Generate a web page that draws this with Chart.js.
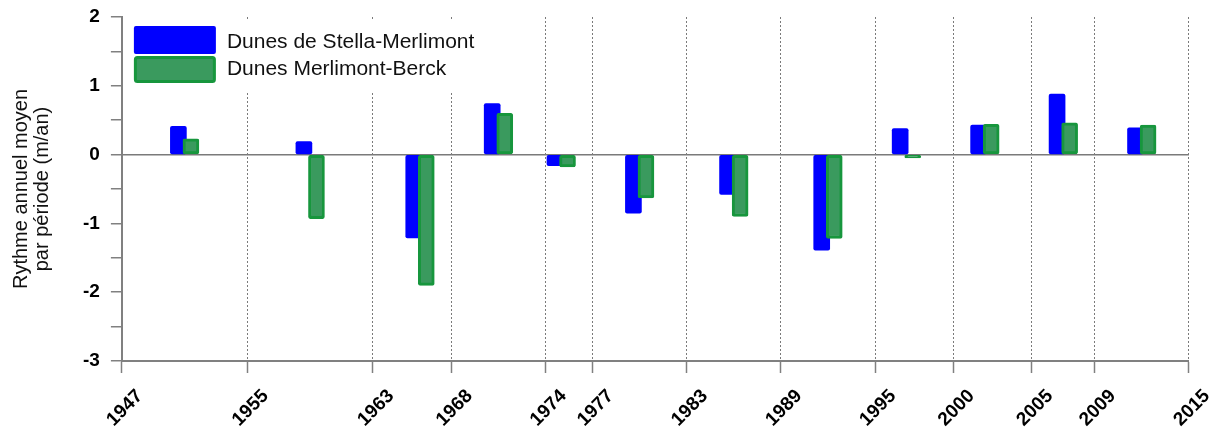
<!DOCTYPE html>
<html>
<head>
<meta charset="utf-8">
<script src="https://cdn.jsdelivr.net/npm/chart.js@4/dist/chart.umd.min.js"></script>
<style>
  html, body { margin: 0; padding: 0; background: #fff; }
  #wrap { width: 1217px; height: 434px; position: relative; }
</style>
</head>
<body>
<div id="wrap"><canvas id="chart"></canvas></div>
<script>
// years marking the period limits (x ticks)
const tickYears = [1947, 1955, 1963, 1968, 1974, 1977, 1983, 1989, 1995, 2000, 2005, 2009, 2015];
// year on which each period's pair of bars is centred
const periodCentres = [1951, 1959, 1966, 1971, 1975, 1980, 1986, 1992, 1997, 2002, 2007, 2012];
// rythme annuel moyen (m/an)
const stellaMerlimont = [0.41, 0.19, -1.21, 0.74, -0.16, -0.85, -0.58, -1.39, 0.38, 0.43, 0.88, 0.39];
const merlimontBerck  = [0.23, -0.93, -1.90, 0.60, -0.18, -0.63, -0.90, -1.22, -0.05, 0.44, 0.46, 0.43];

const FONT = "'Liberation Sans', Arial, sans-serif";
const AXIS_GREY = '#808080';
const barShift = 0.4;

function toPoints(values, shift) {
    return values.map((v, i) => ({ x: periodCentres[i] + shift, y: v }));
}

// legend drawn inside the plot, on a white patch over the grid lines
const boxLegend = {
    id: 'boxLegend',
    afterDraw(chart) {
        const { ctx, chartArea } = chart;
        const ds = chart.data.datasets;
        const items = [ds[1], ds[0]];
        const x0 = chartArea.left + 12;
        const textX = x0 + 93;
        ctx.save();
        ctx.font = '21px ' + FONT;
        let textW = 0;
        items.forEach(d => { textW = Math.max(textW, ctx.measureText(d.label).width); });
        ctx.fillStyle = '#fff';
        ctx.fillRect(chartArea.left + 3, chartArea.top + 2, textX + textW + 18 - (chartArea.left + 3), 72);

        // blue box
        ctx.fillStyle = items[0].backgroundColor;
        ctx.beginPath();
        ctx.roundRect(x0, chartArea.top + 9, 82, 28, 2);
        ctx.fill();
        // green box
        ctx.fillStyle = items[1].backgroundColor;
        ctx.strokeStyle = items[1].borderColor;
        ctx.lineWidth = 3;
        ctx.beginPath();
        ctx.roundRect(x0 + 1.5, chartArea.top + 40.5, 79, 24, 2);
        ctx.fill();
        ctx.stroke();

        ctx.fillStyle = '#111';
        ctx.textBaseline = 'alphabetic';
        ctx.fillText(items[0].label, textX, chartArea.top + 31);
        ctx.fillText(items[1].label, textX, chartArea.top + 58);
        ctx.restore();
    }
};

new Chart(document.getElementById('chart'), {
    type: 'bar',
    data: {
        datasets: [
            {
                label: 'Dunes Merlimont-Berck',
                data: toPoints(merlimontBerck, barShift),
                backgroundColor: '#3a9a5e',
                borderColor: '#17963d',
                borderWidth: 3,
                borderSkipped: false,
                borderRadius: 2,
                order: 0
            },
            {
                label: 'Dunes de Stella-Merlimont',
                data: toPoints(stellaMerlimont, -barShift),
                backgroundColor: '#0000ff',
                borderColor: '#0000ff',
                borderWidth: 0,
                borderSkipped: false,
                borderRadius: 2,
                order: 1
            }
        ]
    },
    options: {
        responsive: true,
        maintainAspectRatio: false,
        animation: false,
        layout: {
            padding: { top: 17, right: 28, left: 0, bottom: 0 }
        },
        datasets: {
            bar: { grouped: false, barThickness: 16 }
        },
        plugins: {
            legend: { display: false },
            tooltip: { enabled: false }
        },
        scales: {
            x: {
                type: 'linear',
                min: 1947,
                max: 2015,
                offset: false,
                afterBuildTicks: axis => {
                    axis.ticks = tickYears.map(v => ({ value: v }));
                },
                afterFit: axis => {
                    axis.height = 73;
                },
                grid: {
                    offset: false,
                    color: '#7a7a7a',
                    lineWidth: 1,
                    tickColor: AXIS_GREY,
                    tickLength: 12,
                    tickWidth: 1.5,
                    tickBorderDash: []
                },
                border: {
                    display: true,
                    color: AXIS_GREY,
                    width: 2,
                    dash: [2, 2]
                },
                ticks: {
                    autoSkip: false,
                    minRotation: 45,
                    maxRotation: 45,
                    labelOffset: 18,
                    padding: 12,
                    color: '#000',
                    font: { family: FONT, size: 19, weight: 'bold' },
                    callback: v => String(v)
                }
            },
            y: {
                min: -3,
                max: 2,
                afterFit: axis => {
                    axis.paddingTop = 0;
                    axis.paddingBottom = 0;
                },
                grid: {
                    color: c => (c.tick && c.tick.value === 0) ? '#7a7a7a' : 'rgba(0,0,0,0)',
                    lineWidth: 1.5,
                    tickColor: AXIS_GREY,
                    tickLength: 11,
                    tickWidth: 1.5
                },
                border: {
                    display: true,
                    color: AXIS_GREY,
                    width: 2
                },
                ticks: {
                    stepSize: 0.5,
                    padding: 11,
                    color: '#000',
                    font: { family: FONT, size: 19, weight: 'bold' },
                    callback: v => Number.isInteger(v) ? String(v) : ''
                },
                title: {
                    display: true,
                    text: ['Rythme annuel moyen', 'par période (m/an)'],
                    color: '#111',
                    font: { family: FONT, size: 20, lineHeight: 1.05 },
                    padding: { top: 11, bottom: 19 }
                }
            }
        }
    },
    plugins: [boxLegend]
});
</script>
</body>
</html>
